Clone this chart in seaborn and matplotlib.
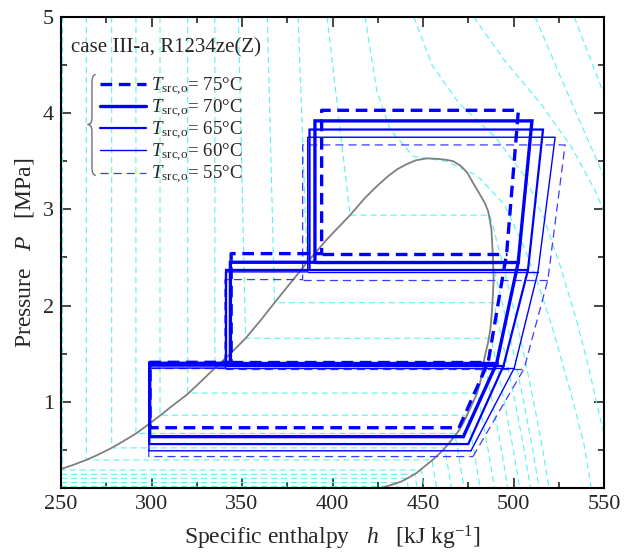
import numpy as np
import pandas as pd
import matplotlib
matplotlib.use("Agg")
import matplotlib.pyplot as plt
import seaborn as sns
from matplotlib.lines import Line2D
from matplotlib.path import Path
from matplotlib.patches import PathPatch
from matplotlib.ticker import MultipleLocator

# ---------------- data ----------------
cases = [75, 70, 65, 60, 55]
P1 = [0.73, 0.637, 0.56, 0.49, 0.43]        # evaporation
P2 = [1.41, 1.40, 1.375, 1.35, 1.345]       # 1st intermediate
P3 = [2.54, 2.45, 2.37, 2.35, 2.27]         # 2nd intermediate
P4 = [4.03, 3.92, 3.83, 3.75, 3.67]         # high pressure
h1R = [469.9, 472.3, 475.0, 476.5, 477.6]
h2R = [486.0, 490.7, 494.5, 500.4, 505.9]
h3R = [496.2, 502.6, 508.0, 513.5, 519.0]
h4R = [502.7, 510.2, 516.3, 523.0, 528.5]
h4L = [394.0, 390.3, 387.3, 386.3, 383.5]
h3L = [344.0, 343.6, 341.2, 340.9, 340.6]
h2L = [299.2, 299.0, 298.8, 298.6, 298.5]

# saturation dome
dome_h = [250, 257, 264, 270, 277, 284, 291.5, 298, 305, 312, 320, 327, 335, 343, 352, 360,
          368, 377, 386, 397, 409.7, 418, 425, 431, 436, 441, 446, 452, 458, 463,
          466.8, 471, 474.5, 477.8, 481, 484.3, 486, 487, 487.8, 488.3, 488.8, 489, 488.6,
          488, 487.2, 486, 484, 481.5, 479.5, 477, 474.8, 472.3, 469.8, 467, 464.2,
          461.2, 458.2, 455, 451, 446.5, 442.5, 438, 432.5, 426]
dome_P = [0.30, 0.345, 0.395, 0.445, 0.51, 0.585, 0.67, 0.76, 0.86, 0.965, 1.08, 1.205, 1.35, 1.49, 1.66, 1.84,
          2.03, 2.24, 2.45, 2.69, 2.94, 3.12, 3.25, 3.35, 3.42, 3.47, 3.51, 3.53, 3.525, 3.515,
          3.50, 3.45, 3.38, 3.27, 3.17, 3.06, 2.98, 2.88, 2.79, 2.62, 2.44, 2.27, 2.10,
          1.92, 1.75, 1.62, 1.46, 1.19, 1.07, 0.97, 0.88, 0.78, 0.70, 0.63, 0.565,
          0.50, 0.445, 0.39, 0.33, 0.26, 0.215, 0.17, 0.135, 0.10]

# isotherms crossing the dome: liquid h at top, liquid h at Psat, Psat, vapour h at Psat
iso_hliq_top = [250.8, 264.0, 278.0, 291.4, 304.7, 320.0, 335.0, 348.0, 364.0, 381.0, 397.0]
iso_hliq_sat = [250.8, 264.0, 278.0, 291.4, 304.7, 320.0, 335.0, 352.0, 368.0, 386.0, 409.7]
iso_Psat     = [0.29, 0.395, 0.52, 0.67, 0.86, 1.09, 1.35, 1.66, 2.03, 2.45, 2.94]
iso_hvap     = [449.0, 455.0, 462.0, 467.5, 474.5, 480.0, 484.5, 487.5, 489.0, 488.3, 487.0]
# low-temperature isotherms (liquid side out of frame)
low_Psat = [0.245, 0.205, 0.16, 0.12]
low_hvap = [445.5, 441.0, 436.0, 430.0]
# superheated isotherm slant (h offset vs pressure)
prof_P = [0.1, 0.5, 1.0, 1.5, 2.0, 2.5, 3.0, 3.5, 4.0, 4.5, 5.0]
prof_d = [0.0, 3.5, 8.5, 14.0, 20.0, 26.5, 33.5, 41.0, 49.0, 57.5, 66.0]
# supercritical isotherms (h, P)
crit_h = [418, 424.4, 431.8, 444.7, 463, 480, 495, 506, 514, 521, 527, 533, 539, 543]
crit_P = [5.0, 4.24, 3.83, 3.55, 3.50, 3.35, 3.05, 2.6, 2.2, 1.8, 1.4, 1.0, 0.55, 0.1]
sc2_h = [445, 455, 470, 490, 506, 517, 526, 534, 541, 547, 552]
sc2_P = [5.0, 4.5, 4.1, 3.75, 3.35, 2.9, 2.4, 1.9, 1.4, 0.9, 0.5]
sc3_h = [478, 495, 515, 532, 545, 554]
sc3_P = [5.0, 4.55, 4.1, 3.65, 3.2, 2.8]
sc4_h = [512, 525, 538.6, 552]
sc4_P = [5.0, 4.42, 3.83, 3.25]
sc5_h = [533.6, 552]
sc5_P = [5.0, 4.1]

# ---------------- style ----------------
sns.set_style("ticks")
plt.rcParams["font.family"] = ["Liberation Serif", "DejaVu Serif"]
plt.rcParams["mathtext.fontset"] = "custom"
plt.rcParams["mathtext.rm"] = "Liberation Serif"
plt.rcParams["mathtext.it"] = "Liberation Serif:italic"
plt.rcParams["axes.unicode_minus"] = False

fig = plt.figure(figsize=(6.27, 5.55), dpi=100)
ax = fig.add_axes([61 / 627, 1 - 488.3 / 555, 543 / 627, 471.3 / 555])

CYAN = (0.35, 0.95, 0.95)

# ---- isotherm segments ----
rows = []
sid = 0
def add(hs, Ps):
    global sid
    for h, p in zip(hs, Ps):
        rows.append({"h": h, "P": p, "seg": sid})
    sid += 1

for i in range(len(iso_Psat)):
    ps = iso_Psat[i]
    base = iso_hvap[i] + np.interp(ps, prof_P, prof_d)
    hs = [iso_hliq_top[i], iso_hliq_sat[i], iso_hvap[i]]
    Ps = [5.0, ps, ps]
    for pp, dd in zip(prof_P[::-1], prof_d[::-1]):
        if pp < ps - 0.05:
            hs.append(base - dd)
            Ps.append(pp)
    add(hs, Ps)
for ps, hv in zip(low_Psat, low_hvap):
    base = hv + np.interp(ps, prof_P, prof_d)
    add([250, hv, base], [ps, ps, 0.1])
add(crit_h, crit_P)
add(sc2_h, sc2_P)
add(sc3_h, sc3_P)
add(sc4_h, sc4_P)
add(sc5_h, sc5_P)
iso_df = pd.DataFrame(rows)

n0 = len(ax.lines)
sns.lineplot(data=iso_df, x="h", y="P", units="seg", estimator=None, sort=False,
             color=CYAN, linewidth=0.8, ax=ax, zorder=1)
for ln in ax.lines[n0:]:
    ln.set_dashes((5.5, 3.5))

# ---- dome ----
dome_df = pd.DataFrame({"h": dome_h, "P": dome_P})
sns.lineplot(data=dome_df, x="h", y="P", sort=False, estimator=None,
             color="#7f7f7f", linewidth=1.3, ax=ax, zorder=2)

# ---- cycles ----
styles = {
    75: dict(lw=2.4, color="#0000ff", dashes=(3.5, 2.0)),
    70: dict(lw=2.4, color="#0000ff", dashes=None),
    65: dict(lw=1.6, color="#0000ff", dashes=None),
    60: dict(lw=1.0, color="#0000ff", dashes=None),
    55: dict(lw=0.9, color="#3a3aff", dashes=(6.5, 4.0)),
}
for i, c in enumerate(cases):
    loop_h = [h1R[i], h2R[i], h3R[i], h4R[i], h4L[i], h4L[i], h3L[i], h3L[i], h2L[i], h2L[i], h1R[i]]
    loop_P = [P1[i], P2[i], P3[i], P4[i], P4[i], P3[i], P3[i], P2[i], P2[i], P1[i], P1[i]]
    seg_h = loop_h + [h4L[i], h3R[i]] + [h3L[i], h2R[i]]
    seg_P = loop_P + [P3[i], P3[i]] + [P2[i], P2[i]]
    seg_u = [0] * len(loop_h) + [1, 1] + [2, 2]
    cdf = pd.DataFrame({"h": seg_h, "P": seg_P, "seg": seg_u})
    st = styles[c]
    n0 = len(ax.lines)
    sns.lineplot(data=cdf, x="h", y="P", units="seg", estimator=None, sort=False,
                 color=st["color"], linewidth=st["lw"], ax=ax, zorder=3 + (5 - i) * 0.1)
    for ln in ax.lines[n0:]:
        ln.set_solid_joinstyle("miter")
        if st["dashes"] is not None:
            ln.set_dashes(st["dashes"])

# ---- axes ----
ax.set_xlim(250, 550)
ax.set_ylim(0.1, 5)
ax.xaxis.set_major_locator(MultipleLocator(50))
ax.xaxis.set_minor_locator(MultipleLocator(25))
ax.yaxis.set_major_locator(MultipleLocator(1))
ax.yaxis.set_minor_locator(MultipleLocator(0.5))
ax.tick_params(which="both", direction="in", top=True, right=True, labelsize=16, width=1.2)
ax.tick_params(which="major", length=7, pad=5)
ax.tick_params(which="minor", length=4)
for sp in ax.spines.values():
    sp.set_linewidth(1.5)
    sp.set_color("black")
ax.set_xlabel(r"Specific enthalpy   $h$   [kJ kg$^{-1}$]", fontsize=17, labelpad=7)
ax.set_ylabel(r"Pressure   $P$   [MPa]", fontsize=17, labelpad=5)

ax.text(0.018, 0.955, "case III-a, R1234ze(Z)", transform=ax.transAxes,
        fontsize=15, va="top", ha="left")

handles = []
for c in cases:
    st = styles[c]
    ln = Line2D([], [], color=st["color"], lw=st["lw"])
    if st["dashes"] is not None:
        ln.set_dashes(st["dashes"])
    handles.append(ln)
labels = [r"$T_{\mathrm{src{,}o}}$= %d°C" % c for c in cases]
leg = ax.legend(handles, labels, loc="upper left", bbox_to_anchor=(0.071, 0.876),
                frameon=False, fontsize=13.6, borderpad=0, borderaxespad=0,
                handlelength=2.45, handletextpad=0.3, labelspacing=0.0)

# curly brace
x0, x1, xt = 0.064, 0.057, 0.049
yt, ym, yb = 0.878, 0.772, 0.664
verts = [(x0, yt), (x1, yt), (x1, yt - 0.018),
         (x1, ym + 0.014), (x1, ym), (xt, ym),
         (x1, ym), (x1, ym - 0.014),
         (x1, yb + 0.018), (x1, yb), (x0, yb)]
codes = [Path.MOVETO, Path.CURVE3, Path.CURVE3,
         Path.LINETO, Path.CURVE3, Path.CURVE3,
         Path.CURVE3, Path.CURVE3,
         Path.LINETO, Path.CURVE3, Path.CURVE3]
ax.add_patch(PathPatch(Path(verts, codes), transform=ax.transAxes, fill=False,
                       edgecolor="#707070", lw=1.0, zorder=5))

fig.savefig("out.png", dpi=100)
